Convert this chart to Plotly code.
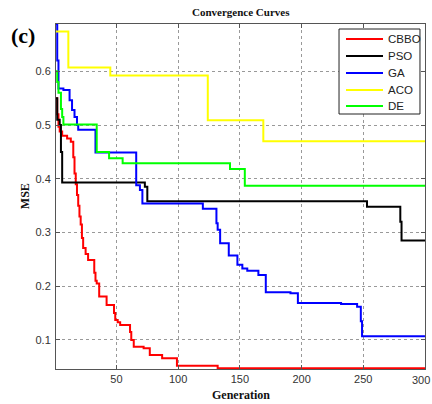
import plotly.graph_objects as go

# Breakpoints (generation, MSE); each value holds until the next generation
cbbo_x = [1, 2, 3, 4, 6, 10, 13, 15, 16, 17, 18, 19, 20, 21, 22, 23, 25, 27, 32, 33, 34, 36, 42, 48, 49, 51, 53, 61, 62, 64, 72, 77, 87, 99, 132, 300]
cbbo_y = [0.55, 0.52, 0.497, 0.488, 0.48, 0.475, 0.469, 0.44, 0.41, 0.39, 0.37, 0.35, 0.33, 0.315, 0.29, 0.271, 0.26, 0.249, 0.225, 0.21, 0.205, 0.181, 0.165, 0.15, 0.137, 0.133, 0.128, 0.115, 0.1, 0.0875, 0.0845, 0.072, 0.066, 0.052, 0.0474, 0.0474]

pso_x = [1, 2, 4, 5, 6, 73, 75, 253, 280, 281, 300]
pso_y = [0.55, 0.51, 0.5, 0.45, 0.393, 0.385, 0.358, 0.348, 0.32, 0.285, 0.285]

ga_x = [1, 2, 3, 7, 12, 14, 16, 18, 19, 33, 66, 69, 71, 120, 131, 132, 134, 141, 148, 152, 156, 165, 171, 191, 197, 232, 245, 248, 249, 300]
ga_y = [0.688, 0.62, 0.568, 0.565, 0.546, 0.528, 0.515, 0.5, 0.491, 0.449, 0.388, 0.379, 0.354, 0.344, 0.317, 0.305, 0.28, 0.257, 0.24, 0.233, 0.229, 0.221, 0.189, 0.187, 0.169, 0.167, 0.162, 0.135, 0.107, 0.107]

aco_x = [1, 11, 45, 124, 169, 300]
aco_y = [0.674, 0.607, 0.592, 0.509, 0.47, 0.47]

de_x = [1, 2, 3, 5, 6, 7, 34, 44, 55, 142, 154, 300]
de_y = [0.6, 0.58, 0.56, 0.53, 0.515, 0.501, 0.45, 0.438, 0.429, 0.418, 0.387, 0.387]

series_names = ["CBBO", "PSO", "GA", "ACO", "DE"]
series_x = [cbbo_x, pso_x, ga_x, aco_x, de_x]
series_y = [cbbo_y, pso_y, ga_y, aco_y, de_y]
series_colors = ["#ff0000", "#000000", "#0000ff", "#ffff00", "#00ff00"]

x_ticks = [50, 100, 150, 200, 250, 300]
x_tick_labels = ["50", "100", "150", "200", "250", "300"]
y_ticks = [0.1, 0.2, 0.3, 0.4, 0.5, 0.6]

fig = go.Figure()
for name, xs, ys, col in zip(series_names, series_x, series_y, series_colors):
    fig.add_trace(go.Scatter(x=xs, y=ys, name=name, mode="lines", showlegend=False,
                             line=dict(color=col, width=2, shape="hv")))

sans = "Liberation Sans, Arial, sans-serif"
tick_font = dict(family=sans, size=11, color="#333333")
axis_common = dict(
    showline=True, linecolor="#555555", linewidth=1, mirror="ticks",
    ticks="inside", ticklen=4, tickcolor="#555555",
    showgrid=True, gridcolor="#999999", gridwidth=1, griddash="dot",
    zeroline=False, automargin=False, tickfont=tick_font,
)

# last x label sits at the very right edge; it is placed as right-anchored text so it stays visible
fig.update_layout(
    width=432, height=404,
    margin=dict(l=56, r=7, t=24, b=35),
    paper_bgcolor="white", plot_bgcolor="white",
    xaxis=dict(range=[1, 300.01], tickvals=x_ticks,
               ticktext=x_tick_labels[:-1] + [""], **axis_common),
    yaxis=dict(range=[0.046, 0.688], tickvals=y_ticks, ticklabelstandoff=2, **axis_common),
    showlegend=False,
)
fig.add_annotation(text=x_tick_labels[-1], xref="paper", yref="paper", x=1.019, y=0,
                   xanchor="right", yanchor="top", yshift=-3, showarrow=False,
                   font=tick_font)

# Legend box drawn like the MATLAB legend
fig.add_shape(type="rect", xref="paper", yref="paper",
              x0=0.767, x1=0.9864, y0=0.7391, y1=0.9855,
              line=dict(color="#222222", width=1), fillcolor="white", layer="above")
leg_y = [0.9565, 0.9072, 0.8580, 0.8087, 0.7623]
for name, col, ly in zip(series_names, series_colors, leg_y):
    fig.add_shape(type="line", xref="paper", yref="paper",
                  x0=0.7859, x1=0.8862, y0=ly, y1=ly,
                  line=dict(color=col, width=2), layer="above")
    fig.add_annotation(text=name, xref="paper", yref="paper", x=0.8943, y=ly,
                       xanchor="left", yanchor="middle", showarrow=False,
                       font=dict(family=sans, size=11.5, color="#222222"))

serif = "Liberation Serif, Times New Roman, serif"
fig.add_annotation(text="<b>Convergence Curves</b>", xref="paper", yref="paper",
                   x=0.5, y=1, yshift=4, yanchor="bottom", showarrow=False,
                   font=dict(family=serif, size=11, color="#111111"))
fig.add_annotation(text="<b>(c)</b>", xref="paper", yref="paper",
                   x=-0.089, y=0.968, xanchor="center", yanchor="middle", showarrow=False,
                   font=dict(family=serif, size=22, color="#000000"))
fig.add_annotation(text="<b>MSE</b>", xref="paper", yref="paper",
                   x=-0.085, y=0.5, xanchor="center", yanchor="middle", showarrow=False,
                   textangle=-90, font=dict(family=serif, size=12, color="#111111"))
fig.add_annotation(text="<b>Generation</b>", xref="paper", yref="paper",
                   x=0.5, y=0, yshift=-17, yanchor="top", showarrow=False,
                   font=dict(family=serif, size=12, color="#111111"))

fig.write_html("out.html")
